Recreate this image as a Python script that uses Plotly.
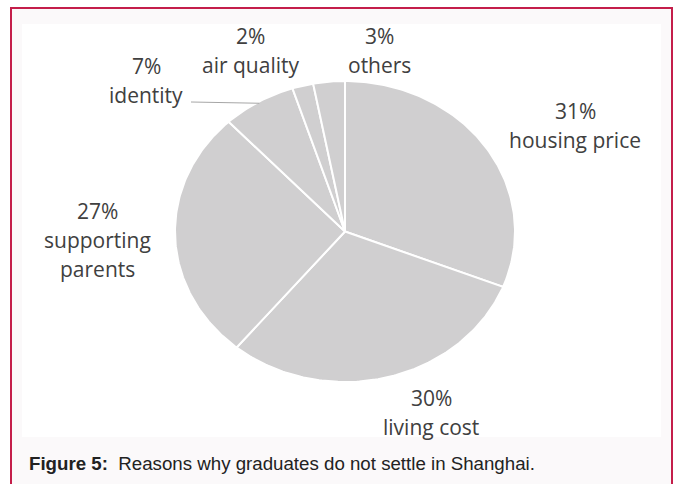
import textwrap
import numpy as np
import plotly.graph_objects as go

# Survey results: reasons graduates give for not settling in Shanghai
categories = ["housing price", "living cost", "supporting parents",
              "identity", "air quality", "others"]
shares = [31, 30, 27, 7, 2, 3]
caption_label = "Figure 5:"
caption_text = "Reasons why graduates do not settle in Shanghai."

# Page geometry (pixels)
W, H = 680, 484
PIE_BOX = (175, 81, 515, 382)          # left, top, right, bottom of the pie ellipse
LABEL_POS = {                          # centre of the first label line
    "housing price": (575, 111),
    "living cost": (431, 398),
    "supporting parents": (98, 211),
    "identity": (146, 66),
    "air quality": (250, 36),
    "others": (379, 36),
}
LINE_GAP = 29
SLICE_COLOR = "#d0cfd0"
TEXT_COLOR = "#404040"
LABEL_FONT = "Open Sans"


def px(x):
    return x / W


def py(y):
    return 1 - y / H


fig = go.Figure()

# Slices drawn clockwise from 12 o'clock on a unit circle; the axes stretch it
total = sum(shares)
cum = np.concatenate([[0], np.cumsum(shares)]) / total
mid_angles = {}
for name, a0, a1 in zip(categories, cum[:-1], cum[1:]):
    t = np.linspace(a0, a1, max(int((a1 - a0) * 400), 8))
    ang = np.pi / 2 - 2 * np.pi * t
    xs = np.concatenate([[0], np.cos(ang), [0]])
    ys = np.concatenate([[0], np.sin(ang), [0]])
    fig.add_trace(go.Scatter(
        x=xs, y=ys, mode="lines", fill="toself", fillcolor=SLICE_COLOR,
        line=dict(color="white", width=2), hoverinfo="skip", showlegend=False,
    ))
    mid_angles[name] = np.pi / 2 - 2 * np.pi * (a0 + a1) / 2

# Leader line for the "identity" label
l, t, r, b = PIE_BOX
ma = mid_angles["identity"]
ex = np.cos(ma) * 0.99
ey = np.sin(ma) * 0.99
lx_px, ly_px = 191, 102
ax = (lx_px - (l + r) / 2) / ((r - l) / 2)
ay = -(ly_px - (t + b) / 2) / ((b - t) / 2)
fig.add_trace(go.Scatter(
    x=[ax, ex], y=[ay, ey], mode="lines",
    line=dict(color="#a6a6a6", width=1), hoverinfo="skip", showlegend=False,
))

# Labels: percentage on the first line, wrapped category name below
annotations = []
for name, v in zip(categories, shares):
    cx, cy = LABEL_POS[name]
    lines = [f"{v}%"] + textwrap.wrap(name, 13)
    for i, txt in enumerate(lines):
        annotations.append(dict(
            x=px(cx), y=py(cy + i * LINE_GAP), xref="paper", yref="paper",
            text=txt, showarrow=False, xanchor="center", yanchor="middle",
            font=dict(family=LABEL_FONT, size=21, color=TEXT_COLOR),
        ))

annotations.append(dict(
    x=px(27), y=py(463), xref="paper", yref="paper",
    text=f"<b>{caption_label}</b>  {caption_text}", showarrow=False,
    xanchor="left", yanchor="middle",
    font=dict(family="Liberation Sans, Arial", size=18.7, color="#222222"),
))

shapes = [
    # outer frame
    dict(type="rect", xref="paper", yref="paper",
         x0=px(11), y0=py(8), x1=px(672), y1=py(500),
         line=dict(color="#c41e4a", width=2), fillcolor="#fbf9fa", layer="below"),
    # white chart panel
    dict(type="rect", xref="paper", yref="paper",
         x0=px(22), y0=py(24), x1=px(661), y1=py(437),
         line=dict(width=0), fillcolor="white", layer="below"),
]

fig.update_layout(
    width=W, height=H, margin=dict(l=0, r=0, t=0, b=0),
    paper_bgcolor="white", plot_bgcolor="rgba(0,0,0,0)",
    xaxis=dict(domain=[px(l), px(r)], range=[-1, 1], visible=False, fixedrange=True),
    yaxis=dict(domain=[py(b), py(t)], range=[-1, 1], visible=False, fixedrange=True),
    shapes=shapes, annotations=annotations, showlegend=False,
)

fig.write_html("out.html", config={"displayModeBar": False})
